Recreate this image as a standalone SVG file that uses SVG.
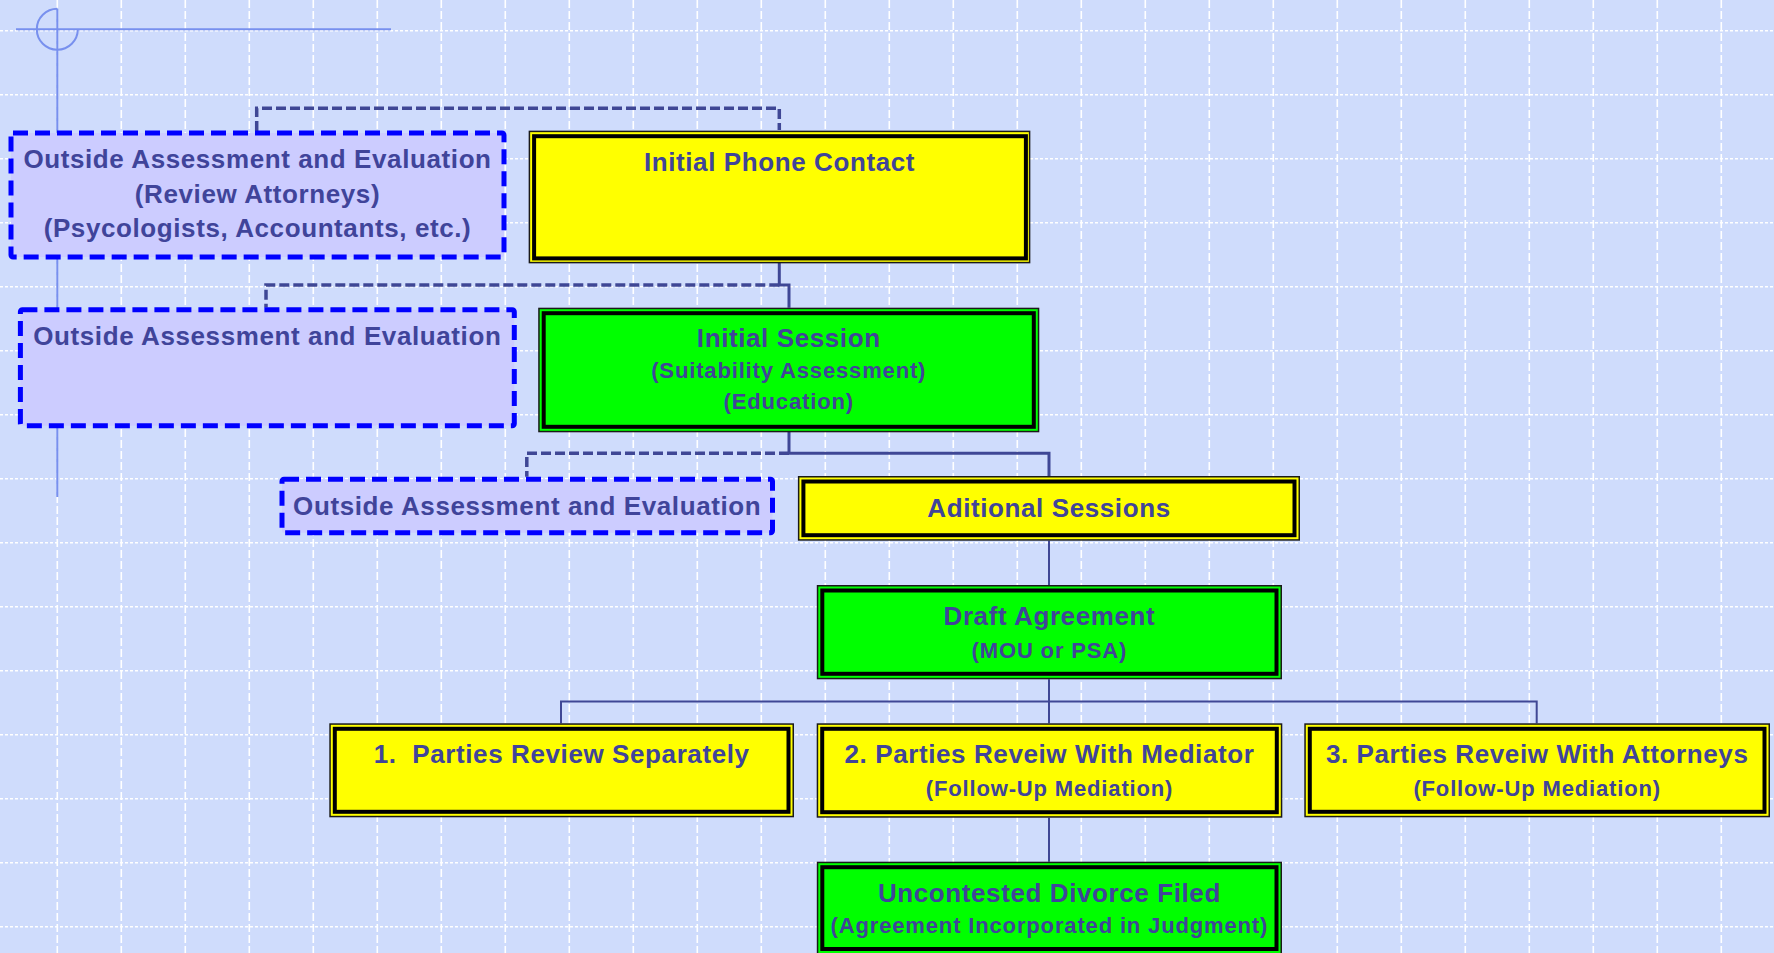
<svg xmlns="http://www.w3.org/2000/svg" width="1774" height="953" viewBox="0 0 1774 953">
<defs>
<style>
.bg{fill:#CFDCFC}
.gv{stroke:#ffffff;stroke-width:1.6;stroke-dasharray:8 3;fill:none}
.gh{stroke:#ffffff;stroke-width:1.4;stroke-dasharray:3 2;fill:none}
.guide{stroke:#7890EE;stroke-width:2;fill:none}
.ob{stroke:#0000FF;stroke-width:5;stroke-dasharray:15 7;fill:#CCCCFF;stroke-linejoin:round}
.outer{stroke:#1a1a1a;stroke-width:1.5}
.inner{fill:none;stroke:#000000;stroke-width:4}
.y{fill:#FFFF00}
.g{fill:#00FF00}
.t{font-family:'Liberation Sans',Arial,Helvetica,sans-serif;font-weight:bold;fill:#40449A;text-anchor:middle}
.h{font-size:26px;letter-spacing:0.6px}
.s{font-size:22px;letter-spacing:0.85px}
.c{fill:none;stroke:#3F4795;stroke-width:3}
.cd{fill:none;stroke:#3F4795;stroke-width:3.5;stroke-dasharray:10 4}
.cn{fill:none;stroke:#3F4795;stroke-width:2}
</style>
</defs>
<rect class="bg" x="0" y="0" width="1774" height="953"/>
<g id="grid">
<path class="gv" d="M57.3 0V953M121.3 0V953M185.3 0V953M249.3 0V953M313.3 0V953M377.3 0V953M441.3 0V953M505.3 0V953M569.3 0V953M633.3 0V953M697.3 0V953M761.3 0V953M825.3 0V953M889.3 0V953M953.3 0V953M1017.3 0V953M1081.3 0V953M1145.3 0V953M1209.3 0V953M1273.3 0V953M1337.3 0V953M1401.3 0V953M1465.3 0V953M1529.3 0V953M1593.3 0V953M1657.3 0V953M1721.3 0V953"/>
<path class="gh" d="M0 30.7H1774M0 94.7H1774M0 158.7H1774M0 222.7H1774M0 286.7H1774M0 350.7H1774M0 414.7H1774M0 478.7H1774M0 542.7H1774M0 606.7H1774M0 670.7H1774M0 734.7H1774M0 798.7H1774M0 862.7H1774M0 926.7H1774"/>
</g>
<g id="guides">
<path class="guide" d="M57.3 8.8A20.5 20.5 0 1 0 77.8 29.3"/>
<path class="guide" d="M16 29.3H391M57.3 8.8V497"/>
</g>
<g id="connectors">
<path class="cd" d="M256.7 131V108.3H779.3V130"/>
<path class="c" d="M779.3 263V285H789V307.7"/>
<path class="cd" d="M779.3 285H266V307.5"/>
<path class="c" d="M789 432V453.3H1049V476"/>
<path class="cd" d="M789 453.3H526.8V476.7"/>
<path class="cn" d="M1049 540.7V585"/>
<path class="cn" d="M1049 679.3V723.3M561 723.3V701.5H1536.7V723.3"/>
<path class="cn" d="M1049 817.7V861.7"/>
</g>
<g id="outside1">
<rect class="ob" x="11" y="133" width="493" height="124" rx="2"/>
<text class="t h" x="257.5" y="168">Outside Assessment and Evaluation</text>
<text class="t h" x="257.5" y="202.5">(Review Attorneys)</text>
<text class="t h" x="257.5" y="237">(Psycologists, Accountants, etc.)</text>
</g>
<g id="phone">
<rect class="outer y" x="529.4" y="131.4" width="500.2" height="131.2"/>
<rect class="inner" x="534.1" y="136.2" width="491.8" height="122.2"/>
<text class="t h" x="779.5" y="170.7">Initial Phone Contact</text>
</g>
<g id="outside2">
<rect class="ob" x="20.4" y="309.8" width="493.9" height="116" rx="2"/>
<text class="t h" x="267.3" y="345">Outside Assessment and Evaluation</text>
</g>
<g id="initial-session">
<rect class="outer g" x="538.95" y="308.45" width="499.6" height="123.1"/>
<rect class="inner" x="543.7" y="313.2" width="490.1" height="113.6"/>
<text class="t h" x="788.75" y="347.3">Initial Session</text>
<text class="t s" x="788.75" y="378.3">(Suitability Assessment)</text>
<text class="t s" x="788.75" y="409.3">(Education)</text>
</g>
<g id="outside3">
<rect class="ob" x="282" y="479.2" width="490.5" height="53.5" rx="2"/>
<text class="t h" x="527.2" y="515">Outside Assessment and Evaluation</text>
</g>
<g id="additional">
<rect class="outer y" x="798.65" y="476.75" width="500.6" height="63.2"/>
<rect class="inner" x="803.4" y="481.5" width="491.1" height="53.7"/>
<text class="t h" x="1049" y="516.7">Aditional Sessions</text>
</g>
<g id="draft">
<rect class="outer g" x="817.55" y="585.75" width="463.7" height="92.8"/>
<rect class="inner" x="822.3" y="590.5" width="454.2" height="83.3"/>
<text class="t h" x="1049.4" y="625">Draft Agreement</text>
<text class="t s" x="1049.4" y="658.3">(MOU or PSA)</text>
</g>
<g id="review1">
<rect class="outer y" x="330.05" y="724.05" width="463.2" height="92.5"/>
<rect class="inner" x="334.8" y="728.8" width="453.7" height="83"/>
<text class="t h" x="561.7" y="763.3" xml:space="preserve">1.  Parties Review Separately</text>
</g>
<g id="review2">
<rect class="outer y" x="817.45" y="724.05" width="464.1" height="92.9"/>
<rect class="inner" x="822.2" y="728.8" width="454.6" height="83.4"/>
<text class="t h" x="1049.5" y="763.3">2. Parties Reveiw With Mediator</text>
<text class="t s" x="1049.5" y="796">(Follow-Up Mediation)</text>
</g>
<g id="review3">
<rect class="outer y" x="1305.05" y="724.05" width="464.2" height="92.5"/>
<rect class="inner" x="1309.8" y="728.8" width="454.7" height="83"/>
<text class="t h" x="1537.2" y="763.3">3. Parties Reveiw With Attorneys</text>
<text class="t s" x="1537.2" y="796">(Follow-Up Mediation)</text>
</g>
<g id="divorce">
<rect class="outer g" x="817.55" y="862.45" width="463.7" height="100"/>
<rect class="inner" x="822.3" y="867.2" width="454.2" height="81.8"/>
<text class="t h" x="1049.4" y="902.3">Uncontested Divorce Filed</text>
<text class="t s" x="1049.4" y="933.3">(Agreement Incorporated in Judgment)</text>
</g>
</svg>
